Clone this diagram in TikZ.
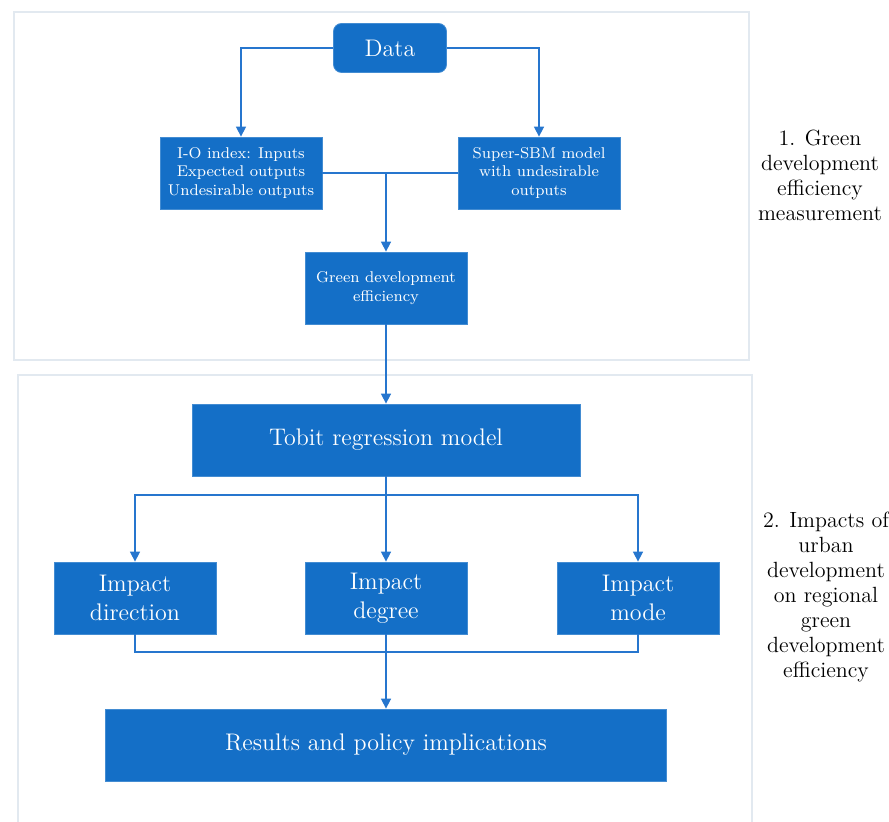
\documentclass[tikz,border=0pt]{standalone}
\usetikzlibrary{calc,positioning,arrows.meta}
\definecolor{boxblue}{RGB}{20,111,199}
\definecolor{lineblue}{RGB}{38,118,206}
\definecolor{framegray}{RGB}{226,233,240}

\begin{document}
\begin{tikzpicture}
  [
    x=0.5pt, y=-0.5pt,
    box/.style={
      rectangle,
      fill=boxblue,
      draw=boxblue!80!white,
      text=white,
      align=center,
      inner sep=0pt
    },
    smallbox/.style={
      box,
      minimum width=81pt,
      minimum height=36pt,
      font=\fontsize{7.8}{9.25}\selectfont
    },
    bigbox/.style={
      box,
      minimum height=36pt,
      font=\fontsize{12}{14.5}\selectfont
    },
    line/.style={
      draw=lineblue, thick
    },
    arrow/.style={
      line, -{Triangle[width=5pt,length=5pt]}
    },
    frame/.style={
      draw=framegray, thick
    },
    label/.style={
      align=center,
      font=\fontsize{11}{12.5}\selectfont
    }
  ]
\useasboundingbox (0,0) rectangle (889,822);

% Measurement
\draw [frame] (14,12) rectangle (749,360);
\node (data) [box, rounded corners=4pt, minimum width=56.5pt, minimum height=24.5pt,
  font=\fontsize{12}{14}\selectfont] at (390,48) {Data};

\node (io)  [smallbox] at (241,173) {I-O index: Inputs\\Expected outputs\\Undesirable outputs};
\node (sbm) [smallbox] at (539,173) {Super-SBM model\\with undesirable\\outputs};
\draw [arrow] (data.west) -| (io.north);
\draw [arrow] (data.east) -| (sbm.north);

\node (ged) [smallbox] at (386,288) {Green development\\efficiency};
\coordinate (merge) at (ged.north |- io.east);
\draw [line] (io.east) -- (sbm.west);
\draw [arrow] (merge) -- (ged.north);

\node (label1) [label] at (820,175) {1. Green\\development\\efficiency\\measurement};

% Impacts
\draw [frame] (18,830) |- (752,375) -- (752,830);
\node (tobit) [bigbox, minimum width=194pt] at (386,440) {Tobit regression model};
\draw [arrow] (ged.south) -- (tobit.north);

\node (dir)  [bigbox, minimum width=81pt] at (135,598) {Impact\\direction};
\node (deg)  [bigbox, minimum width=81pt] at (386,598) {Impact\\degree};
\node (mode) [bigbox, minimum width=81pt] at (638,598) {Impact\\mode};

\coordinate (split) at (386,495);
\draw [arrow] (tobit.south) -- (deg.north);
\draw [line, {Triangle[width=5pt,length=5pt]}-{Triangle[width=5pt,length=5pt]}]
  (dir.north) |- (split) -| (mode.north);

\node (res) [bigbox, minimum width=280.5pt] at (386,745) {Results and policy implications};
\coordinate (join) at (386,652);
\draw [line] (dir.south) |- (join) -| (mode.south);
\draw [arrow] (deg.south) -- (res.north);

\node (label2) [label] at (826,597) {2. Impacts of\\urban\\development\\on regional\\green\\development\\efficiency};

\end{tikzpicture}
\end{document}
